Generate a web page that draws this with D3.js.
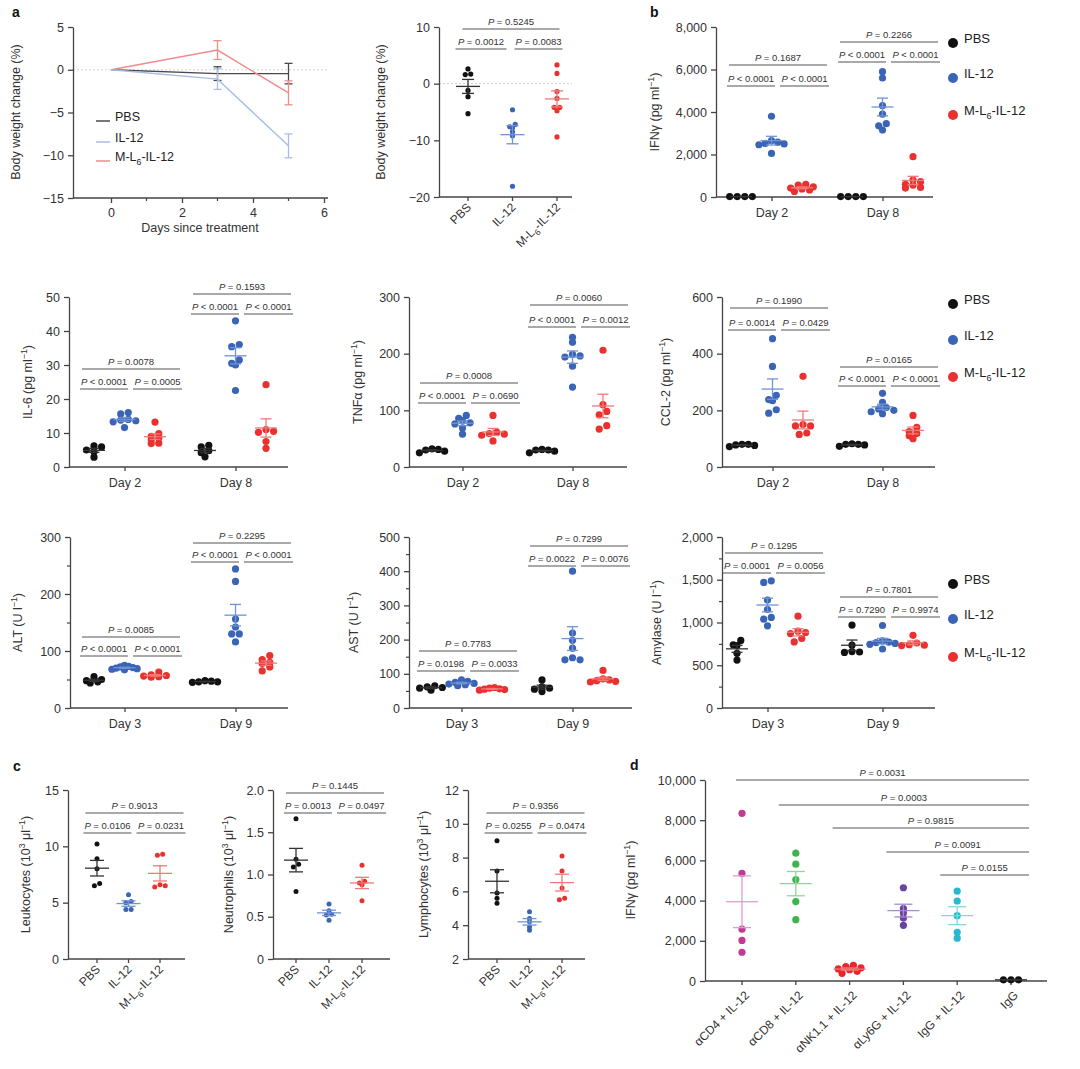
<!DOCTYPE html>
<html>
<head>
<meta charset="utf-8">
<script src="https://cdn.jsdelivr.net/npm/d3@7"></script>
<style>
  body { margin: 0; background: #fff; }
</style>
</head>
<body>
<svg id="fig" width="1080" height="1069"></svg>
<script>
// ---------- data ----------
const groups = ['PBS', 'IL-12', 'M-L_{6}-IL-12'];

// a: body weight time course (mean, sem)
const bwTime = [0, 3, 5];
const bwTimeMean = [[0, -0.45, -0.45], [0, -1.1, -8.9], [0, 2.3, -2.7]];
const bwTimeSem = [[0, 0.8, 1.2], [0, 1.2, 1.4], [0, 1.1, 1.4]];

// a: body weight change per mouse
const bwChange = [
  [2.6, 1.7, 1.6, -1.2, -2.3, -5.3],
  [-4.6, -7.2, -7.6, -7.8, -8.5, -9.2, -18.1],
  [3.3, 1.8, -1.4, -2.6, -4.2, -4.2, -4.8, -9.4]
];
const bwP = ['= 0.5245', '= 0.0012', '= 0.0083'];

// b and row 2: cytokines
const ifngD2 = [[20, 20, 20, 20], [3800, 2650, 2580, 2520, 2500, 2460, 2050], [600, 560, 480, 420, 380, 330, 260]];
const ifngD8 = [[20, 20, 20, 20], [5900, 5600, 4300, 3900, 3450, 3350, 3150], [1900, 800, 720, 600, 560, 450, 420]];
const ifngP = [['= 0.1687', '< 0.0001', '< 0.0001'], ['= 0.2266', '< 0.0001', '< 0.0001']];

const il6D2 = [[6.2, 5.9, 5.0, 4.5, 2.9], [16.0, 15.6, 14.0, 13.8, 13.6, 13.3, 11.6], [13.2, 9.8, 9.0, 8.5, 8.0, 7.0, 6.9]];
const il6D8 = [[6.4, 5.9, 4.8, 4.2, 3.0], [43, 36, 35.4, 31.5, 30.5, 30, 22.5], [24.2, 11, 10.5, 10.2, 7.5, 5.5]];
const il6P = [['= 0.0078', '< 0.0001', '= 0.0005'], ['= 0.1593', '< 0.0001', '< 0.0001']];

const tnfD2 = [[32, 31, 30, 28, 25], [91, 86, 82, 78, 76, 69, 58], [91, 61, 59, 58, 56, 46]];
const tnfD8 = [[31, 30, 30, 28, 25], [229, 220, 199, 196, 194, 178, 141], [206, 110, 98, 92, 73, 67]];
const tnfP = [['= 0.0008', '< 0.0001', '= 0.0690'], ['= 0.0060', '< 0.0001', '= 0.0012']];

const ccl2D2 = [[80, 80, 78, 76, 72], [453, 355, 253, 238, 234, 202, 190], [320, 150, 145, 145, 120, 115]];
const ccl2D8 = [[82, 80, 80, 78, 73], [260, 228, 210, 205, 200, 195, 188], [182, 140, 125, 118, 110, 100]];
const ccl2P = [['= 0.1990', '= 0.0014', '= 0.0429'], ['= 0.0165', '< 0.0001', '< 0.0001']];

// row 3: serum chemistry
const altD3 = [[55, 50, 48, 46, 44], [75, 73, 72, 71, 70, 69, 68, 67], [63, 58, 57, 56, 55, 54]];
const altD9 = [[48, 47, 46, 46, 45], [244, 222, 156, 142, 130, 130, 116], [92, 85, 80, 78, 72, 65]];
const altP = [['= 0.0085', '< 0.0001', '< 0.0001'], ['= 0.2295', '< 0.0001', '< 0.0001']];

const astD3 = [[65, 62, 60, 58, 52], [82, 78, 75, 72, 70, 68, 65], [60, 58, 56, 55, 54, 52]];
const astD9 = [[82, 62, 58, 55, 48], [400, 219, 198, 175, 147, 141, 141], [110, 85, 82, 80, 78, 76]];
const astP = [['= 0.7783', '= 0.0198', '= 0.0033'], ['= 0.7299', '= 0.0022', '= 0.0076']];

const amyD3 = [[790, 740, 730, 640, 560], [1488, 1469, 1262, 1152, 1059, 1039, 961], [1074, 898, 883, 871, 813, 773]];
const amyD9 = [[970, 735, 660, 655, 650], [965, 785, 770, 765, 755, 745, 690], [850, 760, 740, 735, 730]];
const amyP = [['= 0.1295', '= 0.0001', '= 0.0056'], ['= 0.7801', '= 0.7290', '= 0.9974']];

// c: blood counts
const leuk = [[10.2, 8.9, 8.0, 6.7, 6.5], [5.7, 5.1, 5.0, 4.4, 4.4], [9.3, 9.2, 6.6, 6.5, 6.4]];
const neut = [[1.66, 1.18, 1.12, 1.09, 0.80], [0.65, 0.57, 0.53, 0.52, 0.46], [1.11, 0.92, 0.90, 0.88, 0.69]];
const lymph = [[9.0, 7.2, 5.9, 5.6, 5.3], [4.8, 4.4, 4.2, 3.9, 3.7], [8.1, 7.2, 6.2, 5.6, 5.5]];
const leukP = ['= 0.9013', '= 0.0106', '= 0.0231'];
const neutP = ['= 0.1445', '= 0.0013', '= 0.0497'];
const lymphP = ['= 0.9356', '= 0.0255', '= 0.0474'];

// d: depletion
const dCats = ['αCD4 + IL-12', 'αCD8 + IL-12', 'αNK1.1 + IL-12', 'αLy6G + IL-12', 'IgG + IL-12', 'IgG'];
const dVals = [
  [8340, 5350, 2580, 2020, 1430],
  [6360, 5810, 5050, 3950, 3050],
  [780, 720, 650, 600, 560, 480, 380],
  [4640, 3600, 3380, 3130, 2770],
  [4470, 3980, 3250, 2420, 2130],
  [60, 60, 60]
];
const dP = ['= 0.0031', '= 0.0003', '= 0.9815', '= 0.0091', '= 0.0155'];

// ---------- styles ----------
const FONT = '"Liberation Sans", Arial, Helvetica, sans-serif';
const dotColors = ['#111111', '#3a64b5', '#e9312f'];
const barColors = ['#333333', '#7093d3', '#f07a78'];
const lineColors = ['#4a4a4a', '#a8bde6', '#f28a8a'];
const dDot = ['#c23a93', '#3db54a', '#e9262b', '#6a42a0', '#2ab8cc', '#111111'];
const dBar = ['#e59ccb', '#8fd597', '#f07a78', '#a58bc9', '#7fd6e2', '#333333'];
const AX = '#444';
const BR = '#8c8c8c';

const svg = d3.select('#fig').attr('font-family', FONT);

// text with ^{sup} and _{sub}
function rich(sel, str, fs) {
  let cur = 0;
  str.split(/(\^\{[^}]*\}|_\{[^}]*\})/).filter(s => s).forEach(p => {
    let off = 0, t = p, small = false;
    if (p.startsWith('^{')) { off = -0.38 * fs; t = p.slice(2, -1); small = true; }
    else if (p.startsWith('_{')) { off = 0.3 * fs; t = p.slice(2, -1); small = true; }
    const ts = sel.append('tspan').attr('dy', off - cur).text(t);
    if (small) ts.attr('font-size', fs * 0.7);
    cur = off;
  });
}

function yAxis(g, y, left, ticks, fmt, minor) {
  if (minor) {
    g.append('g').attr('transform', `translate(${left},0)`)
      .call(d3.axisLeft(y).tickValues(minor).tickFormat('').tickSize(3).tickSizeOuter(0))
      .call(a => a.select('.domain').remove())
      .selectAll('line').attr('stroke', AX).attr('stroke-width', 1.2);
  }
  const ax = g.append('g').attr('transform', `translate(${left},0)`)
    .call(d3.axisLeft(y).tickValues(ticks).tickFormat(fmt).tickSize(5).tickSizeOuter(0).tickPadding(4));
  ax.attr('font-family', FONT).attr('font-size', 12.5);
  ax.selectAll('text').attr('fill', '#333');
  ax.selectAll('path,line').attr('stroke', AX).attr('stroke-width', 1.3);
  return ax;
}

function xLine(g, left, right, yy, ticks) {
  g.append('line').attr('x1', left).attr('x2', right).attr('y1', yy).attr('y2', yy)
    .attr('stroke', AX).attr('stroke-width', 1.3);
  g.selectAll(null).data(ticks).join('line')
    .attr('x1', d => d).attr('x2', d => d).attr('y1', yy).attr('y2', yy + 4)
    .attr('stroke', AX).attr('stroke-width', 1.3);
}

function yTitle(g, x, yc, str) {
  const t = g.append('text').attr('transform', `translate(${x},${yc}) rotate(-90)`)
    .attr('text-anchor', 'middle').attr('dy', '0.35em').attr('font-size', 12.5).attr('fill', '#333');
  rich(t, str, 12.5);
}

function pText(g, x, y, rel) {
  const t = g.append('text').attr('x', x).attr('y', y).attr('text-anchor', 'middle')
    .attr('font-size', 9.5).attr('fill', '#333');
  t.append('tspan').attr('font-style', 'italic').text('P');
  t.append('tspan').text(' ' + rel);
}

function bracket(g, x1, x2, yy, rel) {
  g.append('line').attr('x1', x1).attr('x2', x2).attr('y1', yy).attr('y2', yy)
    .attr('stroke', BR).attr('stroke-width', 1.6);
  pText(g, (x1 + x2) / 2, yy - 4, rel);
}

// scatter-dot layout: values in the same row are spread symmetrically (centre out),
// crowded rows are squeezed so the blob stays narrow
function swarm(vals, y, r) {
  const out = new Array(vals.length).fill(0);
  const order = vals.map((v, i) => i).sort((a, b) => vals[b] - vals[a]);
  const rows = [];
  order.forEach(i => {
    const py = y(vals[i]);
    const row = rows[rows.length - 1];
    if (row && py - row.y0 < 1.2 * r) row.items.push(i);
    else rows.push({ y0: py, items: [i] });
  });
  rows.forEach(row => {
    const n = row.items.length;
    const step = n > 1 ? Math.min(2.1 * r, 7 * r / (n - 1)) : 0;
    const slots = d3.range(n).map(k => (k - (n - 1) / 2) * step)
      .sort((a, b) => Math.abs(a) - Math.abs(b) || b - a);
    row.items.forEach((i, k) => { out[i] = slots[k]; });
  });
  return out;
}

function drawGroup(g, cx, vals, y, color, lineColor, r, meanW, capW) {
  const offs = swarm(vals, y, r);
  g.append('g').selectAll('circle').data(vals).join('circle')
    .attr('cx', (d, i) => cx + offs[i]).attr('cy', d => y(d)).attr('r', r).attr('fill', color);
  const m = d3.mean(vals);
  const se = vals.length > 1 ? d3.deviation(vals) / Math.sqrt(vals.length) : 0;
  const s = g.append('g').attr('stroke', lineColor).attr('stroke-width', 1.3);
  s.append('line').attr('x1', cx - meanW / 2).attr('x2', cx + meanW / 2).attr('y1', y(m)).attr('y2', y(m));
  s.append('line').attr('x1', cx).attr('x2', cx).attr('y1', y(m - se)).attr('y2', y(m + se));
  [m - se, m + se].forEach(v => s.append('line')
    .attr('x1', cx - capW / 2).attr('x2', cx + capW / 2).attr('y1', y(v)).attr('y2', y(v)));
}

function triBrackets(g, c, low, top, pv, bx) {
  bracket(g, c + bx.top[0], c + bx.top[1], top, pv[0]);
  bracket(g, c + bx.left[0], c + bx.left[1], low, pv[1]);
  bracket(g, c + bx.right[0], c + bx.right[1], low, pv[2]);
}
const BX = { top: [-43, 55], left: [-45, 3], right: [8, 57] };

function legend(x, ys) {
  const g = svg.append('g');
  groups.forEach((name, i) => {
    g.append('circle').attr('cx', x).attr('cy', ys[i]).attr('r', 5).attr('fill', dotColors[i]);
    const t = g.append('text').attr('x', x + 11).attr('y', ys[i]).attr('dy', '0.36em')
      .attr('font-size', 13).attr('fill', '#222');
    rich(t, name, 13);
  });
}

// grouped by day panel
function dayPanel(o) {
  const g = svg.append('g');
  const y = d3.scaleLinear().domain(o.domain).range([o.bottom, o.top]);
  const xDay = d3.scalePoint().domain(o.days).range(o.dayX);
  const xGrp = d3.scalePoint().domain(groups).range([-31, 30]);
  yAxis(g, y, o.left, o.ticks, o.fmt, o.minor);
  xLine(g, o.left, o.right, o.bottom, o.days.map(d => xDay(d)));
  g.selectAll(null).data(o.days).join('text')
    .attr('x', d => xDay(d)).attr('y', o.bottom + 20).attr('text-anchor', 'middle')
    .attr('font-size', 12.5).attr('fill', '#333').text(d => d);
  yTitle(g, o.labelX, (o.top + o.bottom) / 2, o.ylabel);
  o.days.forEach((d, i) => {
    triBrackets(g, xDay(d), o.brk[i][0], o.brk[i][1], o.pv[i], BX);
    groups.forEach((gr, j) => drawGroup(g, xDay(d) + xGrp(gr), o.data[i][j], y,
      dotColors[j], barColors[j], 3.6, 22, 11));
  });
}

// single comparison panel with categories along x
function catPanel(o) {
  const g = svg.append('g');
  const y = d3.scaleLinear().domain(o.domain).range([o.bottom, o.top]);
  const x = d3.scalePoint().domain(groups).range(o.xr);
  if (o.zero) {
    g.append('line').attr('x1', o.left).attr('x2', o.right).attr('y1', y(0)).attr('y2', y(0))
      .attr('stroke', '#cfcfcf').attr('stroke-width', 1).attr('stroke-dasharray', '2,2');
  }
  yAxis(g, y, o.left, o.ticks, o.fmt, o.minor);
  xLine(g, o.left, o.right, o.bottom, groups.map(d => x(d)));
  groups.forEach(gr => {
    const t = g.append('text').attr('transform', `translate(${x(gr) + 4},${o.bottom + 11}) rotate(-45)`)
      .attr('text-anchor', 'end').attr('dy', '0.35em').attr('font-size', 12).attr('fill', '#333');
    rich(t, gr, 12);
  });
  yTitle(g, o.labelX, (o.top + o.bottom) / 2, o.ylabel);
  triBrackets(g, x(groups[1]), o.brk[0], o.brk[1], o.pv, o.bx || BX);
  groups.forEach((gr, j) => drawGroup(g, x(gr), o.data[j], y, dotColors[j], barColors[j], o.r, o.meanW, o.capW));
}

// ---------- panel a: time course ----------
(function () {
  const g = svg.append('g');
  const x = d3.scaleLinear().domain([-1, 6]).range([75.5, 324]);
  const y = d3.scaleLinear().domain([-15, 5]).range([198, 27]);
  g.append('line').attr('x1', 73).attr('x2', 328).attr('y1', y(0)).attr('y2', y(0))
    .attr('stroke', '#d4d4d4').attr('stroke-width', 1).attr('stroke-dasharray', '2,2');
  yAxis(g, y, 73, [5, 0, -5, -10, -15], d3.format('d'));
  g.append('line').attr('x1', 73).attr('x2', 328).attr('y1', 198).attr('y2', 198)
    .attr('stroke', AX).attr('stroke-width', 1.3);
  const xa = g.append('g').attr('transform', 'translate(0,198)')
    .call(d3.axisBottom(x).tickValues([0, 2, 4, 6]).tickFormat(d3.format('d'))
      .tickSize(5).tickPadding(5).tickSizeOuter(0));
  xa.select('.domain').remove();
  xa.attr('font-family', FONT).attr('font-size', 12.5);
  xa.selectAll('line').attr('stroke', AX).attr('stroke-width', 1.3);
  xa.selectAll('text').attr('fill', '#333');
  g.selectAll(null).data([1, 3, 5]).join('line')
    .attr('x1', d => x(d)).attr('x2', d => x(d)).attr('y1', 198).attr('y2', 201)
    .attr('stroke', AX).attr('stroke-width', 1.2);
  g.append('text').attr('x', 200).attr('y', 232).attr('text-anchor', 'middle')
    .attr('font-size', 12.5).attr('fill', '#333').text('Days since treatment');
  yTitle(g, 20, 112, 'Body weight change (%)');

  const line = d3.line().x(d => x(d[0])).y(d => y(d[1]));
  [0, 2, 1].forEach(j => {
    const pts = bwTime.map((t, k) => [t, bwTimeMean[j][k]]);
    g.append('path').datum(pts).attr('d', line).attr('fill', 'none')
      .attr('stroke', lineColors[j]).attr('stroke-width', 1.4);
    const eb = g.append('g').attr('stroke', lineColors[j]).attr('stroke-width', 1.3);
    bwTime.forEach((t, k) => {
      const s = bwTimeSem[j][k];
      if (!s) return;
      const m = bwTimeMean[j][k];
      eb.append('line').attr('x1', x(t)).attr('x2', x(t)).attr('y1', y(m - s)).attr('y2', y(m + s));
      [m - s, m + s].forEach(v => eb.append('line').attr('x1', x(t) - 4).attr('x2', x(t) + 4)
        .attr('y1', y(v)).attr('y2', y(v)));
    });
  });
  // legend
  const ly = [121, 142, 161];
  groups.forEach((name, j) => {
    g.append('line').attr('x1', 96).attr('x2', 110).attr('y1', ly[j]).attr('y2', ly[j])
      .attr('stroke', lineColors[j]).attr('stroke-width', 1.5);
    const t = g.append('text').attr('x', 115).attr('y', ly[j]).attr('dy', '0.36em')
      .attr('font-size', 12.5).attr('fill', '#222');
    rich(t, name, 12.5);
  });
})();

// ---------- panel a: scatter ----------
catPanel({
  left: 439, right: 572, top: 27, bottom: 197, domain: [-20, 10], ticks: [10, 0, -10, -20],
  fmt: d3.format('d'), xr: [468, 557], data: bwChange, pv: bwP, brk: [49, 29],
  bx: { top: [-50, 47], left: [-57, -6], right: [2, 50] },
  ylabel: 'Body weight change (%)', labelX: 385, r: 2.6, meanW: 24, capW: 12, zero: true
});

// ---------- panel b ----------
dayPanel({
  left: 716, right: 933, top: 27, bottom: 197, domain: [0, 8000], ticks: d3.range(0, 8001, 2000),
  fmt: d3.format(','), days: ['Day 2', 'Day 8'], dayX: [772, 883], data: [ifngD2, ifngD8],
  pv: ifngP, brk: [[86, 65], [62, 42]], ylabel: 'IFNγ (pg ml^{−1})', labelX: 659
});
legend(953, [43, 78, 115]);

// ---------- row 2 ----------
dayPanel({
  left: 69, right: 288, top: 297, bottom: 467, domain: [0, 50], ticks: d3.range(0, 51, 10),
  fmt: d3.format('d'), days: ['Day 2', 'Day 8'], dayX: [125, 236], data: [il6D2, il6D8],
  pv: il6P, brk: [[389, 369], [314, 294]], ylabel: 'IL-6 (pg ml^{−1})', labelX: 32
});
dayPanel({
  left: 409, right: 627, top: 297, bottom: 467, domain: [0, 300], ticks: [0, 100, 200, 300],
  fmt: d3.format('d'), days: ['Day 2', 'Day 8'], dayX: [463, 573], data: [tnfD2, tnfD8],
  pv: tnfP, brk: [[403, 383], [327, 305]], ylabel: 'TNFα (pg ml^{−1})', labelX: 362
});
dayPanel({
  left: 722, right: 935, top: 297, bottom: 467, domain: [0, 600], ticks: [0, 200, 400, 600],
  fmt: d3.format('d'), days: ['Day 2', 'Day 8'], dayX: [773, 883], data: [ccl2D2, ccl2D8],
  pv: ccl2P, brk: [[330, 308], [386, 367]], ylabel: 'CCL-2 (pg ml^{−1})', labelX: 670
});
legend(953, [304, 340, 377]);

// ---------- row 3 ----------
dayPanel({
  left: 70, right: 288, top: 537, bottom: 708, domain: [0, 300], ticks: [0, 100, 200, 300],
  minor: [50, 150, 250], fmt: d3.format('d'), days: ['Day 3', 'Day 9'], dayX: [125, 236],
  data: [altD3, altD9], pv: altP, brk: [[656, 637], [562, 543]], ylabel: 'ALT (U l^{−1})', labelX: 22
});
dayPanel({
  left: 409, right: 632, top: 537, bottom: 708, domain: [0, 500], ticks: d3.range(0, 501, 100),
  minor: d3.range(50, 500, 100), fmt: d3.format('d'), days: ['Day 3', 'Day 9'], dayX: [462, 573],
  data: [astD3, astD9], pv: astP, brk: [[671, 651], [566, 546]], ylabel: 'AST (U l^{−1})', labelX: 358
});
dayPanel({
  left: 722, right: 935, top: 537, bottom: 708, domain: [0, 2000], ticks: d3.range(0, 2001, 500),
  minor: d3.range(250, 2000, 500), fmt: d3.format(','), days: ['Day 3', 'Day 9'], dayX: [768, 883],
  data: [amyD3, amyD9], pv: amyP, brk: [[573, 553], [617, 597]], ylabel: 'Amylase (U l^{−1})', labelX: 661
});
legend(953, [584, 619, 657]);

// ---------- panel c ----------
catPanel({
  left: 68, right: 185, top: 790, bottom: 959, domain: [0, 15], ticks: [0, 5, 10, 15],
  fmt: d3.format('d'), xr: [97, 160], data: leuk, pv: leukP, brk: [833, 813],
  ylabel: 'Leukocytes (10^{3} μl^{−1})', labelX: 30, r: 2.5, meanW: 24, capW: 14
});
catPanel({
  left: 273, right: 390, top: 790, bottom: 959, domain: [0, 2], ticks: [0, 0.5, 1, 1.5, 2],
  fmt: v => v === 0 ? '0' : d3.format('.1f')(v), xr: [296, 362], data: neut, pv: neutP, brk: [813, 793],
  ylabel: 'Neutrophils (10^{3} μl^{−1})', labelX: 233, r: 2.5, meanW: 24, capW: 14
});
catPanel({
  left: 468, right: 585, top: 790, bottom: 959, domain: [2, 12], ticks: d3.range(2, 13, 2),
  fmt: d3.format('d'), xr: [497, 562], data: lymph, pv: lymphP, brk: [833, 813],
  ylabel: 'Lymphocytes (10^{3} μl^{−1})', labelX: 428, r: 2.5, meanW: 24, capW: 14
});

// ---------- panel d ----------
(function () {
  const g = svg.append('g');
  const y = d3.scaleLinear().domain([0, 10000]).range([981, 780]);
  const x = d3.scalePoint().domain(dCats).range([742, 1011]);
  yAxis(g, y, 705, d3.range(0, 10001, 2000), d3.format(','));
  xLine(g, 705, 1047, 981, dCats.map(d => x(d)));
  dCats.forEach(c => {
    g.append('text').attr('transform', `translate(${x(c) + 5},${981 + 12}) rotate(-45)`)
      .attr('text-anchor', 'end').attr('dy', '0.35em').attr('font-size', 12).attr('fill', '#333').text(c);
  });
  yTitle(g, 635, 880, 'IFNγ (pg ml^{−1})');
  const bY = [780, 805, 828, 852, 875];
  dP.forEach((p, i) => bracket(g, x(dCats[i]) - (i === 0 ? 6 : 17), x(dCats[5]) + 18, bY[i], p));
  dCats.forEach((c, j) => drawGroup(g, x(c), dVals[j], y, dDot[j], dBar[j], 3.6, 32, 18));
})();

// ---------- panel letters ----------
[['a', 12, 17], ['b', 650, 17], ['c', 13, 771], ['d', 630, 770]].forEach(([l, px, py]) =>
  svg.append('text').attr('x', px).attr('y', py).attr('font-size', 14).attr('font-weight', 'bold')
    .attr('fill', '#111').text(l));
</script>
</body>
</html>
